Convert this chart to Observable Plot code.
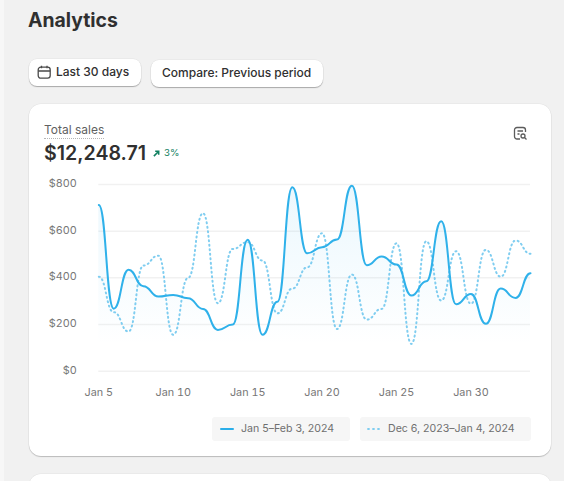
<!DOCTYPE html>
<html><head><meta charset="utf-8">
<script src="https://cdn.jsdelivr.net/npm/d3@7"></script>
<script src="https://cdn.jsdelivr.net/npm/@observablehq/plot@0.6"></script>
<style>
html,body{margin:0;padding:0;width:564px;height:481px;overflow:hidden;background:#f1f1f1;font-family:Inter,sans-serif;color:#303030}
.abs{position:absolute;white-space:nowrap;box-sizing:border-box}
#strip{left:0;top:0;width:4px;height:481px;background:#f7f7f7}
#title{left:28px;top:8px;font-size:19.4px;line-height:24px;font-weight:700}
.btn{background:#fff;border-radius:8px;height:27px;box-shadow:0 1px 1px rgba(0,0,0,.28),0 0 0 .5px rgba(0,0,0,.06);font-size:12px;font-weight:450;line-height:26px;color:#303030}
#b1{left:29px;top:59px;width:112px;padding-left:27px}
#b2{left:151px;top:60px;width:172px;padding-left:11px}
#cal{left:37px;top:65px}
.card{background:#fff;border-radius:12px;box-shadow:0 1px 1px rgba(0,0,0,.2),0 0 0 .5px rgba(0,0,0,.06)}
#card{left:29px;top:104px;width:522px;height:352px}
#card2{left:29px;top:474px;width:522px;height:60px}
#ts{left:44px;top:122px;font-size:12px;line-height:16px;color:#616161;border-bottom:1.5px dotted #b5b5b5;height:17px}
#val{left:44px;top:140px;font-size:19.6px;line-height:26px;font-weight:600}
#pct{left:164px;top:146px;font-size:9.6px;line-height:14px;color:#108060}
#arr{left:153px;top:150px}
#ico{left:513px;top:126px}
.lg{background:#f6f6f6;border-radius:3px;height:24px;top:417px;font-size:10.6px;line-height:24px;color:#6f6f6f}
#l1{left:212px;width:138px;padding-left:29px}
#l2{left:360px;width:171px;padding-left:28px}
#chart{left:0;top:170px}
#chart svg{display:block;background:transparent;overflow:visible}
</style></head><body>
<div class="abs" id="strip"></div>
<div class="abs" id="title">Analytics</div>
<div class="abs btn" id="b1">Last 30 days</div>
<svg class="abs" id="cal" width="15" height="15" viewBox="0 0 15 15" fill="none" stroke="#4a4a4a" stroke-width="1.3"><rect x="1.2" y="2.2" width="12" height="11" rx="2.6"/><path d="M1.2 6h12M4.5 .8v2.4M10 .8v2.4"/></svg>
<div class="abs btn" id="b2">Compare: Previous period</div>
<div class="abs card" id="card"></div>
<div class="abs card" id="card2"></div>
<div class="abs" id="ts">Total sales</div>
<div class="abs" id="val">$12,248.71</div>
<svg class="abs" id="arr" width="7" height="7" viewBox="0 0 8 8" fill="none" stroke="#108060" stroke-width="1.8"><path d="M1 7L6 2M2.5 1.5H6.500V5.500"/></svg>
<div class="abs" id="pct">3%</div>
<svg class="abs" id="ico" width="15" height="15" viewBox="0 0 15 15" fill="none" stroke="#5c5c5c" stroke-width="1.3"><path d="M7 13H4a2.500 2.500 0 0 1-2.500-2.500V4A2.500 2.500 0 0 1 4 1.500h6A2.500 2.500 0 0 1 12.500 4v2"/><path d="M4.500 5h5.500M4.500 8h2"/><circle cx="10" cy="10" r="2"/><path d="M11.500 11.500L13.500 13.500"/></svg>
<div class="abs" id="chart"></div>
<div class="abs lg" id="l1">Jan 5–Feb 3, 2024</div>
<div class="abs lg" id="l2">Dec 6, 2023–Jan 4, 2024</div>
<svg class="abs" style="left:220px;top:427px" width="14" height="4"><path d="M1 2H13" stroke="#2aaee9" stroke-width="2" stroke-linecap="round"/></svg>
<svg class="abs" style="left:367px;top:427px" width="15" height="4"><path d="M1 2H14" stroke="#7fcdf0" stroke-width="1.800" stroke-linecap="round" stroke-dasharray="1 4"/></svg>
<script>
const currentValues = [712,268,435,364,320,327,313,267,177,200,563,156,298,788,505,531,564,795,454,492,457,324,385,642,287,331,203,354,314,420];
const previousValues = [405,253,170,453,495,156,400,677,291,524,553,474,248,354,445,591,181,414,221,267,548,117,557,303,514,289,520,405,560,503];
const days = d3.utcDay.range(new Date(Date.UTC(2024,0,5)), new Date(Date.UTC(2024,1,4)));
const xTicks = [0,5,10,15,20,25].map(i => days[i]);
const yTicks = [0,200,400,600,800];
const current = days.map((d,i) => ({d, v: currentValues[i]}));
const previous = days.map((d,i) => ({d, v: previousValues[i]}));
const fmtDay = d3.utcFormat("%b %-d");

const plot = Plot.plot({
  width: 564, height: 240,
  marginLeft: 98.3, marginRight: 34, marginTop: 14, marginBottom: 39.3,
  style: {fontFamily: "Inter, sans-serif", fontSize: "10.8px", background: "transparent"},
  x: {type: "utc", domain: [days[0], days[29]], label: null},
  y: {domain: [0, 800], label: null},
  marks: [
    Plot.ruleY(yTicks, {stroke: "#f1f1f1", strokeWidth: 1.5}),
    Plot.areaY(current, {x: "d", y: "v", y1: 0, curve: "bump-x", fill: "url(#salesFade)"}),
    Plot.line(previous, {x: "d", y: "v", curve: "bump-x", stroke: "#7fcdf0", strokeWidth: 2, strokeDasharray: "1 3.500", strokeLinecap: "round"}),
    Plot.line(current, {x: "d", y: "v", curve: "bump-x", stroke: "#2fb1ea", strokeWidth: 2}),
    Plot.axisY({ticks: yTicks, tickSize: 0, tickPadding: 22, tickFormat: d => "$" + d, color: "#777", label: null, dy: -1}),
    Plot.axisX({ticks: xTicks, tickSize: 0, tickPadding: 17, tickFormat: fmtDay, color: "#777", label: null})
  ]
});
const svg = d3.select(plot);
const grad = svg.append("defs").append("linearGradient").attr("id","salesFade").attr("gradientUnits","userSpaceOnUse")
  .attr("x1",0).attr("x2",0).attr("y1",14).attr("y2",175);
grad.append("stop").attr("offset",0).attr("stop-color","#35b3ee").attr("stop-opacity",.1);
grad.append("stop").attr("offset",1).attr("stop-color","#35b3ee").attr("stop-opacity",0);
document.getElementById("chart").appendChild(plot);
</script>
</body></html>
